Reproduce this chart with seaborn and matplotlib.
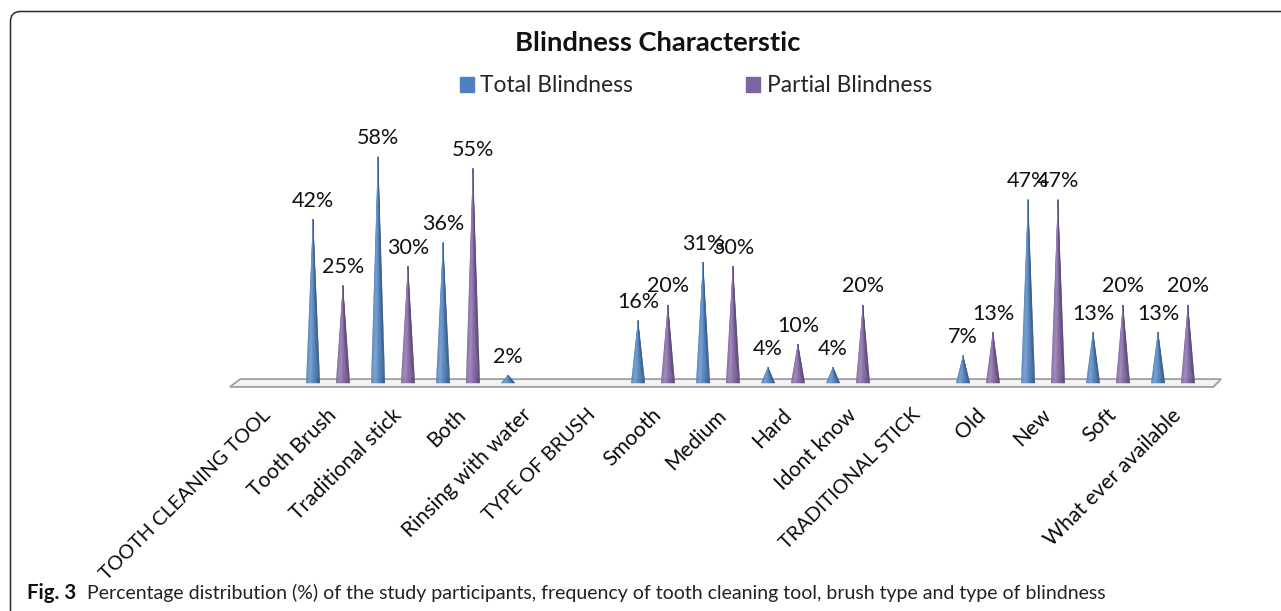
import numpy as np
import pandas as pd
import matplotlib
matplotlib.use("Agg")
import matplotlib.pyplot as plt
import seaborn as sns
from matplotlib.patches import Polygon, FancyBboxPatch, Patch
from matplotlib.transforms import ScaledTranslation

# ---- data -------------------------------------------------------------
categories = [
    "TOOTH CLEANING TOOL", "Tooth Brush", "Traditional stick", "Both",
    "Rinsing with water", "TYPE OF BRUSH", "Smooth", "Medium", "Hard",
    "Idont know", "TRADITIONAL STICK", "Old", "New", "Soft",
    "What ever available",
]
total_blindness = [np.nan, 42, 58, 36, 2, np.nan, 16, 31, 4, 4,
                   np.nan, 7, 47, 13, 13]
partial_blindness = [np.nan, 25, 30, 55, np.nan, np.nan, 20, 30, 10, 20,
                     np.nan, 13, 47, 20, 20]
series_names = ["Total Blindness", "Partial Blindness"]
series_colors = ["#4F81BD", "#8064A2"]

title = "Blindness Characterstic"
caption_head = "Fig. 3"
caption_body = ("Percentage distribution (%) of the study participants, frequency "
                "of tooth cleaning tool, brush type and type of blindness")

# ---- layout (pixels) --------------------------------------------------
W, H, DPI = 1281, 611, 100
X0_PX = 263.0        # centre of the first category
PX_PER_CAT = 65.0
BASE_PX = 383.0      # floor level
PX_PER_PCT = 3.9
XLIM = (-0.6, 14.85)
YLIM = (-3, 65)

sns.set_theme(style="white")
plt.rcParams["font.family"] = ["Lato", "DejaVu Sans"]

fig = plt.figure(figsize=(W / DPI, H / DPI), dpi=DPI)
fig.patch.set_facecolor("white")


def fit_width(txt, target_px):
    """Scale a text's font size so that it spans target_px horizontally."""
    renderer = fig.canvas.get_renderer()
    w = txt.get_window_extent(renderer).width
    txt.set_fontsize(txt.get_fontsize() * target_px / w)


# background axes in pixel units: outer frame
bg = fig.add_axes([0, 0, 1, 1], zorder=-5)
bg.set_xlim(0, W)
bg.set_ylim(H, 0)
bg.axis("off")
bg.add_patch(FancyBboxPatch((10.5, 11.5), W + 60, H + 60,
                            boxstyle="round,pad=0,rounding_size=10",
                            fill=False, ec="#2b2b2b", lw=1.1))

left_px = X0_PX + XLIM[0] * PX_PER_CAT
right_px = X0_PX + XLIM[1] * PX_PER_CAT
bottom_px = BASE_PX - YLIM[0] * PX_PER_PCT
top_px = BASE_PX - YLIM[1] * PX_PER_PCT
ax = fig.add_axes([left_px / W, 1 - bottom_px / H,
                   (right_px - left_px) / W, (bottom_px - top_px) / H])

df = pd.DataFrame({
    "category": categories * 2,
    "value": total_blindness + partial_blindness,
    "series": [series_names[0]] * len(categories) + [series_names[1]] * len(categories),
}).dropna()

sns.barplot(data=df, x="category", y="value", hue="series",
            order=categories, hue_order=series_names, palette=series_colors,
            width=0.92, errorbar=None, legend=False, ax=ax)
ax.set_xlim(*XLIM)
ax.set_ylim(*YLIM)
ax.axis("off")

# floor slab
floor = Polygon([(-0.51, -1.0), (-0.35, 1.0), (14.74, 1.0), (14.62, -1.0)],
                closed=True, fc="#f3f3f3", ec="#a0a0a0", lw=1.3, zorder=1)
ax.add_patch(floor)


def mix(color, f):
    c = np.array(matplotlib.colors.to_rgb(color))
    if f >= 0:
        return tuple(c + (1 - c) * f)
    return tuple(c * (1 + f))


CONE_W = 0.21
N_SLICES = 14


def draw_cone(xc, h, color):
    edges = np.linspace(xc - CONE_W / 2, xc + CONE_W / 2, N_SLICES + 1)
    for k in range(N_SLICES):
        t = (k + 0.5) / N_SLICES
        f = 0.2 * np.exp(-((t - 0.3) / 0.22) ** 2) - 0.32 * max(0.0, (t - 0.62) / 0.38)
        col = mix(color, f)
        ax.add_patch(Polygon([(xc, h), (edges[k], 0), (edges[k + 1], 0)],
                             closed=True, fc=col, ec=col, lw=0.3, zorder=3))


for container, color in zip(ax.containers, series_colors):
    for bar in container:
        bar.set_visible(False)
        h = bar.get_height()
        if not np.isfinite(h) or h <= 0:
            continue
        xc = bar.get_x() + bar.get_width() / 2
        draw_cone(xc, h, color)
        ax.annotate(f"{h:.0f}%", (xc, h), xytext=(0, 9), textcoords="offset points",
                    ha="center", va="baseline", fontsize=15.5, color="#111111",
                    zorder=5)

# category labels, rotated under the floor (capitals set a touch smaller)
label_shift = ScaledTranslation(5 / DPI, -29 / DPI, fig.dpi_scale_trans)
for i, cat in enumerate(categories):
    ax.text(i, 0, cat, transform=ax.transData + label_shift, rotation=45,
            rotation_mode="anchor", ha="right", va="center",
            fontsize=14.3 if cat.isupper() else 15.2, color="#0a0a0a")

title_txt = fig.text(658 / W, 1 - 43 / H, title, ha="center", va="center",
                     fontsize=18, fontweight="bold", color="#111111")

handles = [Patch(facecolor=c, edgecolor=c, label=n)
           for n, c in zip(series_names, series_colors)]
fig.legend(handles=handles, loc="center left", bbox_to_anchor=(460 / W, 1 - 86 / H),
           ncol=2, frameon=False, handlelength=0.6, handleheight=0.6,
           handletextpad=0.3, columnspacing=4.95, fontsize=16.4,
           borderaxespad=0, borderpad=0)

head_txt = fig.text(27 / W, 1 - 599 / H, caption_head, ha="left", va="baseline",
                    fontsize=13, fontweight="bold", color="#111111")
body_txt = fig.text(87 / W, 1 - 599 / H, caption_body, ha="left", va="baseline",
                    fontsize=13, color="#222222")

fit_width(title_txt, 287)
fit_width(head_txt, 49)
fit_width(body_txt, 1016)

fig.savefig("out.png", dpi=DPI, facecolor="white")
